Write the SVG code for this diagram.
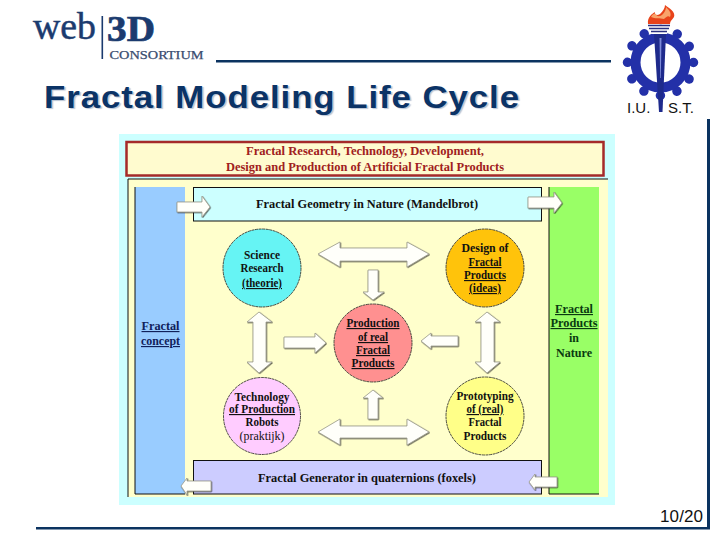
<svg xmlns="http://www.w3.org/2000/svg" width="720" height="540" viewBox="0 0 720 540">
<style>
.s{font-family:"Liberation Serif","Times New Roman",serif}
.a{font-family:"Liberation Sans",Arial,sans-serif}
.t{font-size:11.5px;font-weight:700;text-anchor:middle;fill:#111}
.u{text-decoration:underline}
.b{font-size:12.5px;font-weight:700;fill:#111}
.r{font-size:12.5px;font-weight:700;fill:#A02020}
.arrow{fill:#FFFFFA;stroke:#9a9a8a;stroke-width:.8;filter:url(#sh)}
.box{stroke:#111;stroke-width:1}
.c{stroke:#222;stroke-width:.8;stroke-dasharray:3 .6}
</style>
<defs>
<filter id="sh" x="-10%" y="-10%" width="120%" height="120%"><feDropShadow dx=".6" dy=".7" stdDeviation=".25" flood-color="#222" flood-opacity=".8"/></filter>
</defs>
<rect width="720" height="540" fill="#fff"/>
<g id="logo-web3d" fill="#1B3B6F">
<text class="s" x="33" y="39" font-size="38" textLength="63" lengthAdjust="spacingAndGlyphs" stroke="#1B3B6F" stroke-width=".5">web</text>
<rect x="101.5" y="16" width="1.6" height="43"/>
<text class="s" x="107" y="40.500" font-size="35" font-weight="700" textLength="48" lengthAdjust="spacingAndGlyphs" stroke="#1B3B6F" stroke-width=".7">3D</text>
<text class="s" x="109.500" y="58.500" font-size="12" textLength="94" lengthAdjust="spacingAndGlyphs" fill="#3a4d70" stroke="#3a4d70" stroke-width=".25">CONSORTIUM</text>
</g>
<g id="frame" fill="#0B3360">
<rect x="216" y="60" width="395" height="2.500"/>
<rect x="707" y="119" width="3" height="410"/>
<rect x="36" y="527" width="674" height="2.500"/>
</g>
<text id="title" class="a" x="44" y="107.500" font-size="30.500" font-weight="700" fill="#0B3366" textLength="476" lengthAdjust="spacingAndGlyphs" style="letter-spacing:.8px;text-shadow:1.5px 1.5px 1px #b9c4d4">Fractal Modeling Life Cycle</text>
<g id="logo-iust">
<circle cx="660.500" cy="62.500" r="33" fill="none" stroke="#2330A8" stroke-width="9.500" stroke-dasharray=".01 17.270" stroke-linecap="round"/>
<circle cx="660.500" cy="62.500" r="25" fill="none" stroke="#2330A8" stroke-width="10"/>
<path d="M654 34H666L662.500 112H659Z" fill="#1E2A8C"/>
<path d="M659.500 38H661.500L660.800 78H660.200Z" fill="#7d8ad8"/>
<path d="M648 25H670L667 34H652Z" fill="#fff"/>
<path d="M648 25.500H670M649 28.500H669M651 31.500H667" stroke="#2a2f80" stroke-width="1.600"/>
<path d="M648 24C647 17 652 14 655 12C654 15 657 16 660 14C663 11 665 8 665 5C669 8 676 12 674 17C672 20 670 21 670 24Z" fill="#E8431A"/>
<path d="M651 17C652 14 655 13 656 14C657 17 660 17 663 14C665 12 666 9 666 7C669 10 672 13 670 17C668 15 666 17 664 19C660 18 655 19 651 17Z" fill="#F9A36A"/>
<text class="a" y="113" font-size="15" fill="#111"><tspan x="627">I.U.</tspan><tspan x="668">S.T.</tspan></text>
</g>
<text id="page" class="a" x="660" y="522" font-size="17" fill="#111" textLength="43">10/20</text>
<g id="panel">
<rect x="119" y="134" width="496" height="371" fill="#CCFFFF"/>
<rect x="128" y="179" width="480" height="318" fill="#FFFFCC"/>
<path d="M128 497V179H608" fill="none" stroke="#111"/>
</g>
<g id="header">
<rect x="126.500" y="142" width="477" height="33.500" fill="#FFFBCF" stroke="#A52A2A" stroke-width="2.500"/>
<text class="s r" x="246" y="155" textLength="238" lengthAdjust="spacingAndGlyphs">Fractal Research, Technology, Development,</text>
<text class="s r" x="226" y="171" textLength="278" lengthAdjust="spacingAndGlyphs">Design and Production of Artificial Fractal Products</text>
</g>
<g id="fractal-concept">
<path d="M185 187H135V494H185Z" fill="#99CCFF"/><path d="M135 187V494H185" fill="none" stroke="#111"/>
<text class="s t u" x="160.500" y="330" style="fill:#10205a" textLength="38" lengthAdjust="spacingAndGlyphs">Fractal</text>
<text class="s t u" x="160.500" y="345" style="fill:#10205a" textLength="39" lengthAdjust="spacingAndGlyphs">concept</text>
</g>
<g id="fractal-products-nature">
<path d="M549 187H599V494H549Z" fill="#99FF66"/><path d="M549 187V494H599" fill="none" stroke="#111"/>
<text class="s t u" x="574" y="313" style="fill:#0a3a10" textLength="38" lengthAdjust="spacingAndGlyphs">Fractal</text>
<text class="s t u" x="574" y="327" style="fill:#0a3a10" textLength="47" lengthAdjust="spacingAndGlyphs">Products</text>
<text class="s t" x="574" y="342" style="fill:#0a3a10" textLength="10" lengthAdjust="spacingAndGlyphs">in</text>
<text class="s t" x="574" y="357" style="fill:#0a3a10" textLength="36" lengthAdjust="spacingAndGlyphs">Nature</text>
</g>
<g id="fractal-geometry">
<rect class="box" x="193.500" y="187.500" width="348" height="33.500" fill="#CCFFFF"/>
<text class="s b" x="256" y="208" textLength="222" lengthAdjust="spacingAndGlyphs">Fractal Geometry in Nature (Mandelbrot)</text>
</g>
<g id="fractal-generator">
<rect class="box" x="193.500" y="460.500" width="348" height="33.500" fill="#CCCCFF"/>
<text class="s b" x="258" y="482" textLength="218" lengthAdjust="spacingAndGlyphs">Fractal Generator in quaternions (foxels)</text>
</g>
<g id="science">
<circle class="c" cx="262" cy="268" r="39" fill="#66F4F4"/>
<text class="s t" x="262" y="259" textLength="36" lengthAdjust="spacingAndGlyphs">Science</text>
<text class="s t" x="262" y="272" textLength="43" lengthAdjust="spacingAndGlyphs">Research</text>
<text class="s t u" x="262" y="287" textLength="40" lengthAdjust="spacingAndGlyphs">(theorie)</text>
</g>
<g id="design">
<circle class="c" cx="485" cy="268" r="39" fill="#FFC30B"/>
<text class="s t" x="485" y="252" textLength="47" lengthAdjust="spacingAndGlyphs">Design of</text>
<text class="s t u" x="485" y="266" textLength="33" lengthAdjust="spacingAndGlyphs">Fractal</text>
<text class="s t u" x="485" y="279" textLength="42" lengthAdjust="spacingAndGlyphs">Products</text>
<text class="s t u" x="485" y="292" textLength="32" lengthAdjust="spacingAndGlyphs">(ideas)</text>
</g>
<g id="production">
<circle class="c" cx="373" cy="343" r="39" fill="#FF9090"/>
<text class="s t u" x="373" y="327" textLength="53" lengthAdjust="spacingAndGlyphs">Production</text>
<text class="s t u" x="373" y="341" textLength="30" lengthAdjust="spacingAndGlyphs">of real</text>
<text class="s t u" x="373" y="354" textLength="34" lengthAdjust="spacingAndGlyphs">Fractal</text>
<text class="s t u" x="373" y="367" textLength="43" lengthAdjust="spacingAndGlyphs">Products</text>
</g>
<g id="technology">
<circle class="c" cx="262" cy="416" r="38.500" fill="#FFCCFF"/>
<text class="s t" x="262" y="401" textLength="55" lengthAdjust="spacingAndGlyphs">Technology</text>
<text class="s t u" x="262" y="413" textLength="66" lengthAdjust="spacingAndGlyphs">of Production</text>
<text class="s t" x="262" y="426" textLength="33" lengthAdjust="spacingAndGlyphs">Robots</text>
<text class="s t" x="262" y="440" textLength="45" lengthAdjust="spacingAndGlyphs" style="font-weight:400">(praktijk)</text>
</g>
<g id="prototyping">
<circle class="c" cx="485" cy="416" r="39" fill="#FFFF88"/>
<text class="s t" x="485" y="400" textLength="57" lengthAdjust="spacingAndGlyphs">Prototyping</text>
<text class="s t u" x="485" y="413" textLength="37" lengthAdjust="spacingAndGlyphs">of (real)</text>
<text class="s t" x="485" y="426" textLength="33" lengthAdjust="spacingAndGlyphs">Fractal</text>
<text class="s t" x="485" y="440" textLength="43" lengthAdjust="spacingAndGlyphs">Products</text>
</g>
<g id="connectors">
<polygon class="arrow" points="318,254 340,242 340,248 407,248 407,242 429,254 407,267 407,261 340,261 340,267"/>
<polygon class="arrow" points="318,432 340,419 340,426 407,426 407,419 429,432 407,445 407,438 340,438 340,445"/>
<polygon class="arrow" points="259,312 272,322 266,322 266,362 272,362 259,373 247,362 253,362 253,322 247,322"/>
<polygon class="arrow" points="487,312 500,322 494,322 494,362 500,362 487,373 475,362 481,362 481,322 475,322"/>
<polygon class="arrow" points="368,270 378,270 378,292 384,292 373,300 363,292 368,292"/>
<polygon class="arrow" points="373,390 383,398 378,398 378,419 368,419 368,398 363,398"/>
<polygon class="arrow" points="284,337 315,337 315,333 326,343 315,353 315,348 284,348"/>
<polygon class="arrow" points="458,336 431,336 431,333 421,341 431,349 431,346 458,346"/>
<polygon class="arrow" points="177,202 202,202 202,196 210,207 202,217 202,212 177,212"/>
<polygon class="arrow" points="528,197 554,197 554,192 562,203 554,213 554,208 528,208"/>
<polygon class="arrow" points="211,481 187,481 187,478 181,486 187,495 187,491 211,491"/>
<polygon class="arrow" points="557,477 535,477 535,474 529,482 535,490 535,487 557,487"/>
</g>
</svg>
